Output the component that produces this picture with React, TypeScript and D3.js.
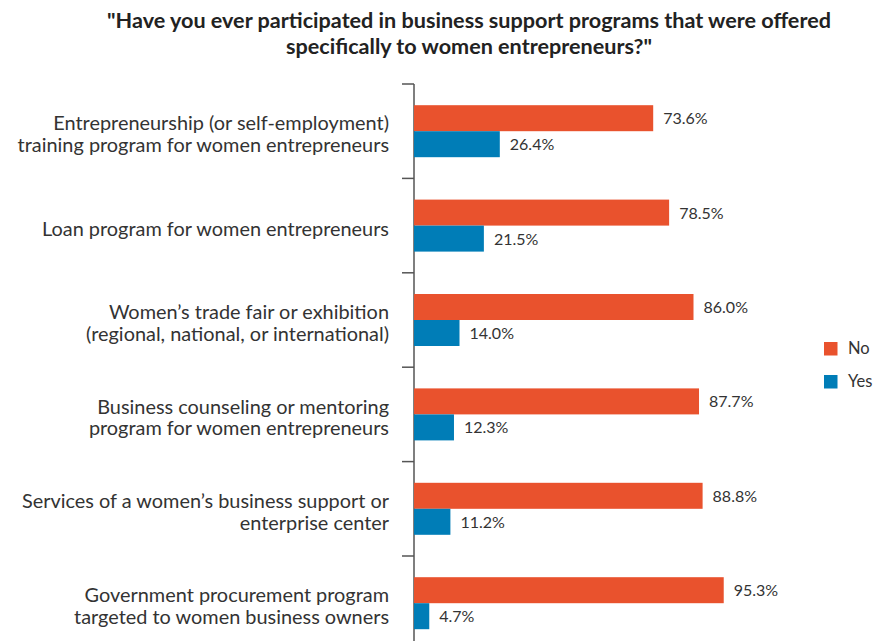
import React from "react";
import * as d3 from "d3";

const categories: string[][] = [
  ["Entrepreneurship (or self-employment)", "training program for women entrepreneurs"],
  ["Loan program for women entrepreneurs"],
  ["Women’s trade fair or exhibition", "(regional, national, or international)"],
  ["Business counseling or mentoring", "program for women entrepreneurs"],
  ["Services of a women’s business support or", "enterprise center"],
  ["Government procurement program", "targeted to women business owners"],
];
const noValues = [73.6, 78.5, 86.0, 87.7, 88.8, 95.3];
const yesValues = [26.4, 21.5, 14.0, 12.3, 11.2, 4.7];
const seriesNames = ["No", "Yes"];
const titleLines = [
  "\"Have you ever participated in business support programs that were offered",
  "specifically to women entrepreneurs?\"",
];

const W = 875;
const H = 641;
const ORANGE = "#E9522D";
const BLUE = "#007DB7";
const TEXT = "#333333";
const FONT = "Lato, 'Open Sans', sans-serif";

export default function App() {
  const ids = categories.map((_, i) => String(i));
  const y = d3.scaleBand<string>().domain(ids).range([84, 84 + 6 * 94.4]).paddingInner(0).paddingOuter(0);
  const x = d3.scaleLinear().domain([0, 100]).range([414, 739]);
  const barH = 26;
  const axisX = x(0);

  return (
    <svg width={W} height={H} style={{ position: "absolute", left: 0, top: 0, background: "#fff" }} fontFamily={FONT}>
      {titleLines.map((t, i) => (
        <text key={i} x={469} y={28 + i * 26} textAnchor="middle" fontSize={21.6} fontWeight={700} fill="#222">
          {t}
        </text>
      ))}
      {/* axis */}
      <line x1={axisX} x2={axisX} y1={y.range()[0]} y2={H} stroke="#555" strokeWidth={1.5} />
      {ids.map((id) => (
        <line key={id} x1={axisX - 12} x2={axisX} y1={y(id)!} y2={y(id)!} stroke="#555" strokeWidth={1.5} />
      ))}
      {ids.map((id, i) => {
        const c = y(id)! + y.bandwidth() / 2;
        const lines = categories[i];
        const lh = 21.5;
        const startY = c - ((lines.length - 1) * lh) / 2 + 10;
        return (
          <g key={id}>
            <rect x={axisX} y={c - barH} width={x(noValues[i]) - axisX} height={barH} fill={ORANGE} />
            <rect x={axisX} y={c} width={x(yesValues[i]) - axisX} height={barH} fill={BLUE} />
            <text x={x(noValues[i]) + 10} y={c - barH / 2 + 6} fontSize={16} fill={TEXT}>
              {noValues[i].toFixed(1)}%
            </text>
            <text x={x(yesValues[i]) + 10} y={c + barH / 2 + 6} fontSize={16} fill={TEXT}>
              {yesValues[i].toFixed(1)}%
            </text>
            {lines.map((l, j) => (
              <text key={j} x={389} y={startY + j * lh} textAnchor="end" fontSize={19.9} fill={TEXT}>
                {l}
              </text>
            ))}
          </g>
        );
      })}
      {/* legend */}
      {seriesNames.map((s, i) => (
        <g key={s} transform={`translate(824, ${342 + i * 33})`}>
          <rect x={0} y={0} width={13.5} height={13.5} fill={i === 0 ? ORANGE : BLUE} />
          <text x={24} y={12} fontSize={16.5} fill={TEXT}>
            {s}
          </text>
        </g>
      ))}
    </svg>
  );
}
